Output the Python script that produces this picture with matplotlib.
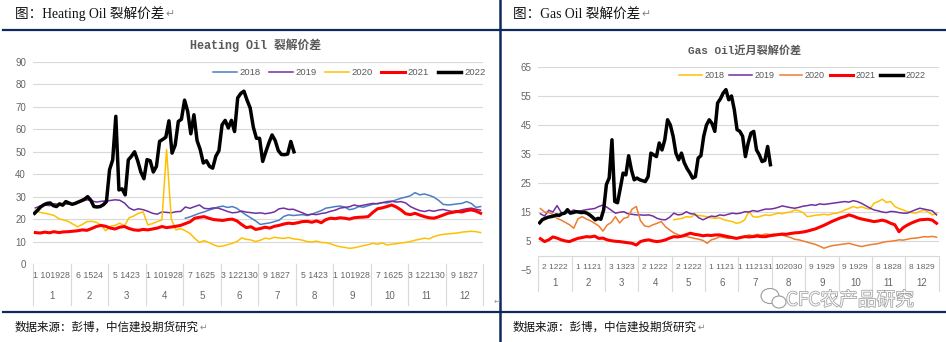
import numpy as np
import matplotlib
matplotlib.use("Agg")
import matplotlib.pyplot as plt
from matplotlib.lines import Line2D
from matplotlib.patches import Ellipse
import matplotlib.patheffects as pe

plt.rcParams["font.family"] = ["Liberation Sans", "Noto Sans CJK SC", "DejaVu Sans"]

nan = np.nan

# ---------------- category axis labels ----------------
month_labels = [str(m) for m in range(1, 13)]
ho_day_labels = ["1 101928", "6 1524", "5 1423", "1 101928", "7 1625", "3 122130",
                 "9 1827", "5 1423", "1 101928", "7 1625", "3 122130", "9 1827"]
go_day_labels = ["2 1222", "1 1121", "3 1323", "2 1222", "2 1222", "1 1121",
                 "1 112131", "102030", "9 1929", "9 1929", "8 1828", "8 1829"]

# ---------------- Heating Oil crack spread ($/bbl), 8 samples per month ----------------
ho_2018 = [nan] * 32 + [
    20.4, 21.0, 21.8, 22.6, 23.2, 24.0, 24.6, 25.4,
    25.8, 25.2, 25.6, 24.8, 23.2, 21.8, 20.5, 19.2,
    17.6, 18.0, 18.3, 18.9, 19.5, 21.2, 21.9, 21.6,
    21.8, 22.0, 21.6, 22.2, 23.0, 23.8, 24.9, 25.2,
    25.6, 25.8, 25.4, 24.2, 24.6, 25.6, 25.3, 26.0,
    26.6, 27.0, 27.4, 27.2, 27.8, 28.6, 29.3, 29.8,
    30.4, 31.8, 30.8, 31.2, 30.6, 29.8, 28.4, 26.6,
    26.3, 26.5, 26.8, 27.0, 27.8, 27.0, 25.2, 25.6]
ho_2019 = [
    25.0, 25.8, 26.3, 26.0, 26.9, 26.5, 27.0, 26.6,
    26.8, 27.5, 28.0, 28.6, 28.2, 27.6, 27.9, 28.1,
    28.3, 28.6, 28.4, 27.2, 25.0, 24.0, 24.6, 24.2,
    23.5, 22.6, 22.2, 23.2, 23.0, 22.8, 23.3, 23.4,
    25.4, 24.8, 25.6, 26.3, 24.8, 24.6, 25.0, 24.9,
    24.2, 23.4, 22.8, 23.0, 23.6, 23.1, 22.9, 22.6,
    22.8, 22.4, 22.7, 23.2, 24.6, 24.9, 24.3, 24.4,
    23.6, 22.8, 21.9, 22.2, 22.0, 22.5, 22.8, 23.5,
    24.0, 24.9, 25.2, 25.5, 26.3, 25.8, 26.2, 26.6,
    27.0, 26.8, 27.3, 27.8, 28.0, 27.6, 27.8, 27.2,
    25.6, 24.6, 23.8, 23.4, 23.9, 23.5, 24.0, 24.3,
    23.8, 23.4, 23.6, 24.2, 24.6, 24.9, 24.4, 24.0]
ho_2020 = [
    23.8, 23.0, 22.6, 22.2, 21.6, 20.2, 19.6, 19.0,
    17.8, 16.6, 17.6, 18.9, 19.0, 18.6, 17.4, 14.8,
    16.8, 17.2, 18.2, 17.0, 20.6, 21.4, 22.6, 23.2,
    17.4, 18.0, 18.9, 19.6, 51.0, 20.0, 15.2, 15.8,
    14.8, 13.6, 11.4, 9.6, 10.4, 9.6, 8.6, 7.8,
    8.0, 8.6, 9.2, 10.0, 11.6, 11.0, 10.7, 10.0,
    10.6, 11.5, 11.2, 11.9, 11.6, 11.4, 11.8, 11.2,
    11.0, 10.6, 10.0, 9.8, 10.2, 9.6, 9.5, 9.0,
    8.2, 7.7, 7.4, 7.0, 7.2, 7.7, 8.2, 8.6,
    9.2, 8.8, 9.4, 8.5, 8.8, 9.0, 9.4, 9.6,
    10.0, 10.6, 11.0, 11.5, 11.2, 12.2, 12.8, 13.2,
    13.4, 13.6, 13.8, 14.2, 14.4, 14.6, 14.4, 14.0]
ho_2021 = [
    14.0, 13.8, 14.2, 13.9, 14.4, 14.0, 14.3, 14.4,
    14.6, 14.8, 15.2, 15.0, 15.8, 16.7, 17.2, 16.8,
    16.0, 15.6, 16.4, 16.7, 15.8, 15.2, 15.0, 15.4,
    15.2, 15.6, 16.0, 16.7, 16.2, 16.5, 16.8, 17.2,
    18.0, 18.8, 20.4, 20.8, 21.1, 20.4, 19.8, 19.6,
    19.4, 19.8, 20.0, 19.2, 17.6, 16.2, 16.6, 15.4,
    15.8, 16.4, 16.0, 16.8, 17.2, 17.8, 18.2, 18.0,
    18.4, 18.9, 19.0, 18.6, 19.2, 18.4, 19.8, 20.4,
    20.2, 20.6, 20.4, 20.0, 20.6, 20.8, 20.9, 21.1,
    23.0, 24.6, 25.0, 25.6, 26.3, 25.4, 24.1, 22.4,
    22.0, 22.6, 21.8, 21.1, 20.6, 20.4, 21.0, 21.8,
    22.6, 23.0, 23.4, 23.2, 23.8, 24.1, 23.6, 22.6]
# 2022, 12 samples per month, Jan to Jul
ho_2022 = [
    22.6, 24.0, 25.5, 26.4, 27.0, 27.2, 26.0, 25.6, 26.8, 26.2, 27.8, 27.2,
    26.6, 27.0, 27.6, 28.2, 28.9, 30.0, 28.4, 25.6, 25.4, 25.6, 26.4, 27.8,
    42.0, 46.4, 65.8, 33.0, 33.5, 30.8, 46.4, 48.0, 50.0, 46.0, 41.0, 38.0,
    46.5, 46.0, 41.0, 43.5, 54.6, 55.5, 56.5, 63.8, 49.4, 53.0, 63.5, 64.5,
    73.0, 68.0, 58.0, 66.5, 55.0, 51.0, 45.0, 46.0, 43.5, 42.7, 48.0, 50.5,
    62.0, 64.0, 60.6, 64.0, 59.0, 74.0, 76.0, 77.0, 73.0, 69.5, 61.0, 56.0,
    56.0, 45.7, 50.0, 54.0, 57.5, 55.0, 50.5, 48.8, 48.7, 49.0, 54.6, 50.0]

# ---------------- Gas Oil front-month crack spread ----------------
go_2018 = [nan] * 32 + [
    12.3, 12.6, 12.8, 13.4, 13.2, 14.0, 13.8, 13.6,
    13.4, 13.0, 12.8, 13.0, 12.3, 12.0, 11.7, 11.1,
    11.4, 12.3, 15.2, 13.4, 13.2, 13.6, 14.0, 13.8,
    14.2, 14.6, 14.4, 14.8, 15.0, 15.7, 15.4, 14.8,
    13.4, 13.6, 13.9, 14.0, 14.2, 14.0, 14.4, 14.6,
    15.0, 15.7, 16.2, 16.9, 16.4, 16.8, 16.3, 16.0,
    18.0, 18.6, 19.4, 18.3, 18.6, 16.9, 16.2, 15.7,
    15.1, 14.8, 14.6, 15.2, 15.7, 15.0, 14.0, 14.6]
go_2019 = [
    14.4, 13.6, 15.6, 15.0, 17.2, 14.8, 14.6, 15.0,
    15.7, 15.2, 15.5, 15.8, 16.0, 16.2, 16.9, 17.4,
    16.6, 15.6, 14.6, 14.9, 15.1, 14.4, 14.2, 14.0,
    14.0, 13.9, 14.0, 13.6, 12.8, 12.4, 12.3, 13.2,
    14.6, 14.0, 14.2, 15.1, 14.4, 14.3, 13.0, 12.3,
    13.0, 13.6, 13.4, 14.0, 13.8, 14.2, 14.6, 14.4,
    14.6, 15.1, 15.0, 15.5, 15.2, 15.6, 16.0, 16.0,
    16.2, 16.6, 17.1, 16.8, 16.5, 16.3, 16.6, 17.0,
    17.2, 17.5, 17.3, 17.8, 17.6, 17.8, 18.0, 18.2,
    18.4, 18.6, 18.4, 18.9, 18.6, 18.0, 17.2, 16.4,
    15.7, 15.4, 15.0, 14.8, 15.2, 15.1, 14.8, 14.6,
    14.6, 15.2, 15.8, 16.3, 16.0, 15.7, 15.4, 14.0]
go_2020 = [
    16.2, 15.0, 14.8, 14.2, 12.8, 12.2, 11.4, 10.6,
    9.4, 12.6, 13.4, 12.6, 12.0, 11.1, 10.2, 8.4,
    10.5, 11.4, 13.4, 11.2, 12.8, 13.2, 16.0, 16.9,
    12.0, 10.2, 9.9, 10.6, 11.1, 11.7, 9.9, 8.8,
    7.8, 7.2, 6.5, 6.6, 6.2, 5.9, 5.6, 5.2,
    4.2, 5.4, 5.8, 6.5, 6.2, 5.9, 6.0, 5.9,
    6.2, 6.6, 7.1, 6.8, 7.3, 7.0, 7.4, 7.2,
    7.4, 7.1, 7.0, 6.6, 6.2, 5.6, 5.4, 5.0,
    4.6, 4.2, 3.8, 3.2, 2.5, 3.0, 3.4, 3.6,
    3.8, 4.0, 4.2, 3.8, 3.4, 3.1, 3.4, 3.7,
    3.9, 4.1, 4.5, 4.8, 4.9, 5.1, 5.4, 5.3,
    5.6, 5.9, 6.0, 6.2, 6.5, 6.4, 6.6, 6.3]
go_2021 = [
    5.8, 4.8, 5.4, 6.4, 6.0, 5.4, 5.0, 4.8,
    5.4, 5.9, 6.2, 6.5, 6.4, 6.7, 5.9, 6.0,
    5.4, 5.1, 4.9, 4.8, 4.6, 4.4, 4.2, 3.6,
    4.8, 5.2, 5.4, 5.0, 4.8, 5.0, 5.4, 6.0,
    6.5, 6.4, 6.7, 7.2, 7.7, 7.3, 7.1, 6.8,
    7.0, 6.9, 7.1, 7.1, 6.8, 6.5, 6.2, 5.9,
    6.2, 6.5, 6.4, 6.5, 6.7, 6.5, 6.5, 6.8,
    7.0, 7.2, 7.4, 7.3, 7.6, 7.8, 7.9, 8.1,
    8.4, 8.8, 9.2, 9.8, 10.4, 11.1, 11.8, 12.4,
    13.0, 13.4, 14.0, 13.6, 13.0, 12.6, 12.3, 12.0,
    11.7, 11.9, 12.2, 11.8, 11.1, 10.6, 8.2, 9.6,
    10.5, 11.2, 11.8, 12.3, 12.4, 12.5, 12.2, 11.1]
go_2022 = [
    11.3, 12.4, 12.8, 13.2, 13.4, 13.6, 14.0, 13.8, 14.4, 14.6, 15.8, 14.6,
    14.8, 15.1, 15.0, 14.8, 14.9, 14.6, 14.0, 13.2, 12.3, 12.8, 12.5, 15.7,
    24.5, 26.7, 39.9, 18.6, 18.2, 23.2, 28.4, 27.8, 34.4, 29.5, 26.1, 26.7,
    26.1, 25.8, 25.5, 27.2, 35.3, 34.7, 34.1, 38.8, 36.4, 39.9, 46.8, 45.0,
    41.1, 35.3, 33.0, 35.3, 32.0, 30.0, 28.5, 26.7, 27.2, 33.6, 34.4, 41.1,
    45.0, 46.8, 45.5, 42.8, 52.6, 54.0, 56.0, 57.2, 53.7, 55.0, 50.3, 43.4,
    42.8, 41.1, 34.1, 38.8, 42.2, 42.8, 36.4, 34.7, 32.4, 32.8, 37.6, 31.3]

years = ["2018", "2019", "2020", "2021", "2022"]
ho_series = [ho_2018, ho_2019, ho_2020, ho_2021, ho_2022]
go_series = [go_2018, go_2019, go_2020, go_2021, go_2022]
ho_colors = ["#4A7EC2", "#7030A0", "#FFC000", "#FF0000", "#000000"]
go_colors = ["#FFC000", "#7030A0", "#ED7D31", "#FF0000", "#000000"]
widths = [1.1, 1.1, 1.1, 2.2, 2.5]
per_month = [8, 8, 8, 8, 12]

W, H = 946, 342
NAVY = "#0E2A5C"
GRID = "#D9D9D9"
TXT = "#666666"

fig = plt.figure(figsize=(W / 100, H / 100), dpi=100)
fig.patch.set_facecolor("white")


def fx(x):
    return x / W


def fy(y):
    return 1 - y / H


def month_x(values, pm):
    return (np.arange(len(values)) + 0.5) / pm


def draw_panel(ax, series, colors, ylim, yticks, grid_vals, day_labels, day_off,
               mon_off, sep_len, day_size, leg_anchor, leg_size, leg_gap):
    ax.set_xlim(0, 12)
    ax.set_ylim(*ylim)
    ax.set_yticks(yticks)
    ax.set_xticks([])
    for s in ax.spines.values():
        s.set_visible(False)
    ax.tick_params(axis="y", length=0, labelsize=7, labelcolor=TXT, pad=5)
    for g in grid_vals:
        ax.axhline(g, color=GRID, lw=0.8, zorder=0)
    # category axis crosses the value axis at zero
    ax.axhline(0, color=GRID, lw=0.8, zorder=0)

    handles = []
    for vals, col, lw, pm, lab in zip(series, colors, widths, per_month, years):
        ln, = ax.plot(month_x(vals, pm), vals, color=col, lw=lw,
                      solid_joinstyle="round", label=lab)
        handles.append(ln)

    hpx = ax.get_position().height * H
    dpp = (ylim[1] - ylim[0]) / hpx  # data units per pixel
    for m in range(13):
        ax.plot([m, m], [0, -sep_len * dpp], clip_on=False, color=GRID, lw=0.8)
    for m in range(12):
        ax.text(m + 0.5, -day_off * dpp, day_labels[m], ha="center", va="center",
                fontsize=day_size, color=TXT, clip_on=False)
        ax.text(m + 0.5, -mon_off * dpp, month_labels[m], ha="center", va="center",
                fontsize=7, color=TXT, clip_on=False)

    ax.legend(handles=handles, ncol=5, loc="center left", bbox_to_anchor=leg_anchor,
              frameon=False, fontsize=leg_size, handlelength=2.5, handletextpad=0.3,
              columnspacing=leg_gap, labelcolor="#595959", borderpad=0,
              borderaxespad=0)


ax1 = fig.add_axes([fx(33), fy(264), (483 - 33) / W, (264 - 62) / H])
draw_panel(ax1, ho_series, ho_colors, (0, 90), np.arange(0, 91, 10),
           np.arange(10, 91, 10), ho_day_labels, 12, 32, 41, 6.3,
           (0.40, 0.946), 6.8, 0.9)

ax2 = fig.add_axes([fx(538.3), fy(270), (938.6 - 538.3) / W, (270 - 67) / H])
draw_panel(ax2, go_series, go_colors, (-5, 65), np.arange(-5, 66, 10),
           np.arange(5, 66, 10), go_day_labels, 12, 28, 35, 6.0,
           (0.352, 0.956), 6.5, 0.55)

# chart titles
fig.text(fx(255), fy(45), "Heating Oil 裂解价差", ha="center", va="center",
         fontsize=8.5, fontweight="bold", color="#595959",
         family=["Liberation Mono", "Noto Sans CJK SC"])
fig.text(fx(745), fy(50), "Gas Oil近月裂解价差", ha="center", va="center",
         fontsize=8, fontweight="bold", color="#595959",
         family=["Liberation Mono", "Noto Sans CJK SC"])

# document frame lines
fig.add_artist(Line2D([fx(3), 1], [fy(30), fy(30)], transform=fig.transFigure,
                      color=NAVY, lw=1.6))
fig.add_artist(Line2D([fx(3), 1], [fy(312), fy(312)], transform=fig.transFigure,
                      color=NAVY, lw=1.6))
fig.add_artist(Line2D([fx(500), fx(500)], [0, 1], transform=fig.transFigure,
                      color=NAVY, lw=1.8))

renderer = fig.canvas.get_renderer()


def caption(x, y, s, size, family):
    t = fig.text(fx(x), fy(y), s, ha="left", va="center", fontsize=size,
                 color="#111111", family=family)
    bb = t.get_window_extent(renderer)
    fig.text(bb.x1 / W + 0.001, fy(y), "↵", ha="left", va="center",
             fontsize=size * 0.8, color="#888888", family=["DejaVu Sans"])


head_family = ["Liberation Serif", "Noto Sans CJK SC", "DejaVu Sans"]
caption(15, 14, "图：Heating Oil 裂解价差", 9.8, head_family)
caption(513, 14, "图：Gas Oil 裂解价差", 9.8, head_family)
caption(15, 327, "数据来源：彭博，中信建投期货研究", 8.3, ["Noto Sans CJK SC"])
caption(513, 327, "数据来源：彭博，中信建投期货研究", 8.3, ["Noto Sans CJK SC"])

fig.text(fx(497), fy(301), "↵", ha="center", va="center", fontsize=6,
         color="#999999", family=["DejaVu Sans"])

# watermark
fig.text(fx(786), fy(300), "CFC农产品研究", ha="left", va="center", fontsize=13.5,
         color="#F7F7F7", family=["Noto Sans CJK SC"],
         path_effects=[pe.withStroke(linewidth=1.0, foreground="#9A9A9A")])
for (cx, cy, w, h) in [(770, 296, 18, 15), (779, 302, 14, 12)]:
    fig.add_artist(Ellipse((fx(cx), fy(cy)), w / W, h / H, transform=fig.transFigure,
                           facecolor="white", edgecolor="#9A9A9A", lw=0.8))

fig.savefig("out.png", dpi=100, facecolor="white")
